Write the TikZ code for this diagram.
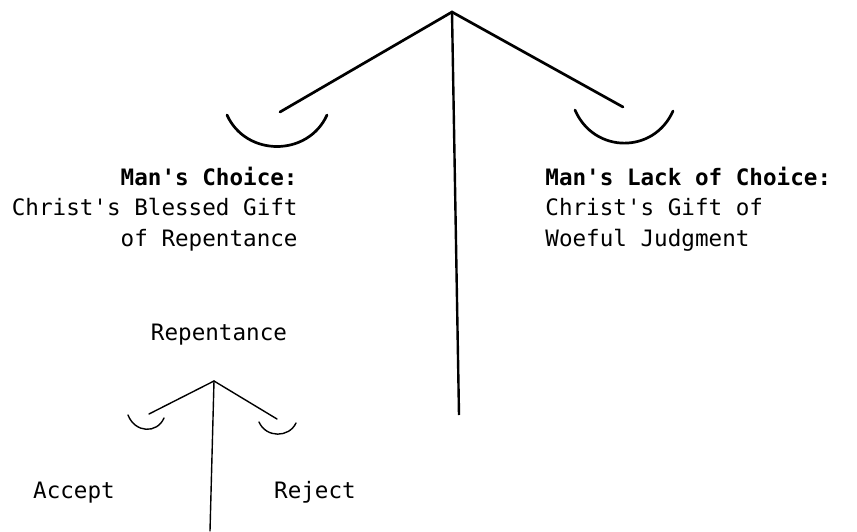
\documentclass[tikz,border=0pt]{standalone}
\usepackage{fontspec}
\setmonofont{DejaVu Sans Mono}

\begin{document}
\begin{tikzpicture}[
  x=0.5pt, y=-0.5pt,
  beam/.style={line width=1.35pt, line cap=round},
  post/.style={line width=1.2pt},
  smallbeam/.style={line width=0.7pt, line cap=round},
  lbl/.style={inner sep=0pt, font=\ttfamily\fontsize{11.3}{15.2}\selectfont},
]
\useasboundingbox (0,0) rectangle (857,531);

%% Large balance
\coordinate (top)  at (452,12);
\coordinate (bl)   at (280,112);
\coordinate (br)   at (623,107);
\coordinate (foot) at (459,415);

\draw[beam] (bl) -- (top) -- (br);
\draw[post] (top) -- (foot);

\draw[beam] (227,115) .. controls (246,157) and (308,157) .. (327,115);
\draw[beam] (575,110) .. controls (594,154) and (654,154) .. (673,111);

\node[lbl, align=right, anchor=base east] (choice) at (298,246)
  {\textbf{Man's Choice:}\\Christ's Blessed Gift\\of Repentance};
\node[lbl, align=left, anchor=base west] (lack) at (545,246)
  {\textbf{Man's Lack of Choice:}\\Christ's Gift of\\Woeful Judgment};

%% Small balance
\node[lbl, anchor=base] (rep) at (219,340) {Repentance};

\coordinate (stop)  at (214,381);
\coordinate (sbl)   at (149,414);
\coordinate (sbr)   at (277,419);
\coordinate (sfoot) at (210,531);

\draw[smallbeam] (sbl) -- (stop) -- (sbr);
\draw[smallbeam] (stop) -- (sfoot);

\draw[smallbeam] (128,415) .. controls (135,433) and (157,434) .. (164,418);
\draw[smallbeam] (259,422) .. controls (266,438) and (289,438) .. (296,423);

\node[lbl, anchor=base] (accept) at (74,498)  {Accept};
\node[lbl, anchor=base] (reject) at (315,498) {Reject};

\end{tikzpicture}
\end{document}
